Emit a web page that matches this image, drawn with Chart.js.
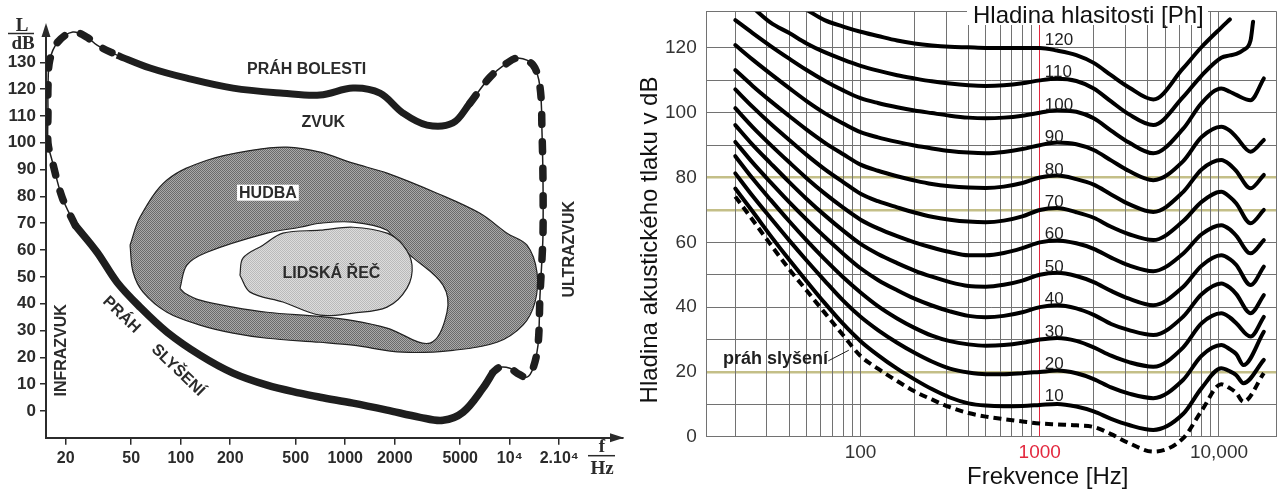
<!DOCTYPE html>
<html lang="cs">
<head>
<meta charset="utf-8">
<title>Sluchové pole a křivky stejné hlasitosti</title>
<script src="https://cdn.jsdelivr.net/npm/chart.js@4.4.1/dist/chart.umd.min.js"></script>
<style>
  html, body { margin: 0; padding: 0; background: #fff; overflow: hidden; }
  .wrap { display: flex; width: 1280px; height: 489px; }
  canvas { display: block; }
</style>
</head>
<body>
<div class="wrap">
  <canvas id="levy" width="630" height="489"></canvas>
  <canvas id="pravy" width="650" height="489"></canvas>
</div>
<script>
// ---------- levy graf: sluchove pole ----------
const levaOsaX = [20, 50, 100, 200, 500, 1000, 2000, 5000, 10000, 20000];
const levaOsaXPopisky = ['20', '50', '100', '200', '500', '1000', '2000', '5000', '10⁴', '2.10⁴'];
const levaOsaY = [0, 10, 20, 30, 40, 50, 60, 70, 80, 90, 100, 110, 120, 130];

// prah slyseni (od vysokych kmitoctu k nizkym)
const prahSlyseniF = [7915, 6880, 5200, 3930, 2849, 1795, 1115, 703, 531, 335, 208, 131, 82.5, 56.6, 41, 31, 22.8];
const prahSlyseniL = [14.4, 8.5, -0.5, -3.5, -2.4, 0.3, 2.9, 5.1, 6.6, 9.6, 14.1, 20.8, 29.4, 38.7, 48, 59.2, 69.3];

const levyOkrajF = [22.8, 19, 16.5, 15.6, 15.6, 15.6, 16, 17.9, 22.1, 26.9, 31, 41];
const levyOkrajL = [69.3, 79.7, 93.5, 99.9, 111.1, 120.8, 130.9, 137.6, 141.3, 139.4, 136.4, 132.7];

const prahBolestiF = [41, 65.1, 109, 208, 419, 703, 1115, 1627, 2245, 3142, 4521, 5736];
const prahBolestiL = [132.7, 127.9, 124.1, 120.4, 118.5, 117.8, 120.4, 118.5, 111.1, 106.6, 107.4, 114.8];

const pravyOkrajF = [5736, 7590, 9627, 11230, 13860, 15280, 15720, 15940, 15940, 15720, 15280, 14860, 13860, 12740, 11080, 10040, 8730, 7915];
const pravyOkrajL = [114.8, 124.5, 129.7, 131.6, 129, 120.8, 103.6, 85, 66.3, 57, 43.2, 24.5, 15.9, 12.6, 14.1, 15.9, 16.3, 14.4];

const hudbaF = [49.2, 56.6, 82.5, 144.5, 275, 443, 703, 1115, 1795, 3614, 6598, 9627, 12740, 14650, 14250, 12040, 8370, 4521, 2245, 1115, 703, 335, 208, 131, 82.5, 59, 51.3, 49.2];
const hudbaL = [61.8, 72.3, 86.1, 93.5, 97.3, 98.4, 96.5, 92.4, 88.7, 81.2, 73.7, 66.3, 61.8, 51.7, 40.6, 32, 25.6, 22.6, 21.9, 24.5, 25.6, 27.1, 29, 32, 36.8, 44.3, 51.8, 61.8];

const bilaF = [99, 109, 144.5, 335, 531, 703, 1115, 1795, 2052, 2603, 3930, 4157, 3278, 1795, 1115, 703, 335, 208, 131, 106, 99];
const bilaL = [45.7, 54.4, 59.2, 66.3, 68.5, 70, 70.4, 67.4, 61.8, 57, 46.9, 36.8, 25.3, 30.9, 33.7, 35.2, 36.8, 38.7, 41.3, 43.9, 45.7];

const recF = [229, 239, 316, 418, 703, 1115, 1795, 2245, 2548, 2375, 1795, 1115, 703, 418, 264, 229];
const recL = [50.6, 57, 61.8, 66.3, 67.4, 68.5, 66.3, 61.8, 54.4, 45.8, 38.7, 36.5, 35.7, 40.6, 44.3, 50.6];

const levaPopiskyText = ['PRÁH BOLESTI', 'ZVUK', 'HUDBA', 'LIDSKÁ ŘEČ', 'INFRAZVUK', 'ULTRAZVUK', 'PRÁH', 'SLYŠENÍ'];
const levaPopiskyF = [582, 736, 339, 825, 18.5, 22800, 44, 97];
const levaPopiskyL = [127.5, 108.1, 81.4, 51.6, 22.6, 60.3, 36.1, 15.4];
const levaPopiskyUhel = [0, 0, 0, 0, -90, -90, 44, 44];

// ---------- pravy graf: krivky stejne hlasitosti ----------
const frekvence = [20, 25, 31.5, 40, 50, 63, 80, 100, 125, 160, 200, 250, 315, 400, 500, 630, 800, 1000, 1250, 1600, 2000, 2500, 3150, 4300, 6300, 8000, 10300, 11500, 12500, 13700, 15000, 15500, 17800];

const prah   = [74.1, 66.9, 59.3, 51.7, 45.1, 38.3, 31.3, 24.9, 21.0, 17.2, 14.0, 11.5, 9.1, 7.3, 6.2, 5.4, 4.7, 4.1, 3.8, 3.5, 3.0, 0.8, -2.0, -4.6, -0.5, 8.0, 16.2, 15.0, 13.5, 10.8, null, null, 19.6];
const phon10 = [76.6, 69.5, 62.0, 54.6, 48.0, 41.3, 34.8, 29.5, 25.2, 21.0, 17.7, 14.7, 12.1, 10.3, 9.6, 9.4, 9.5, 9.8, 10.1, 9.3, 7.8, 5.5, 3.6, 2.1, 7.0, 15.0, 21.1, 20.2, 19.0, 16.5, null, null, 23.7];
const phon20 = [81.3, 74.3, 67.5, 60.6, 54.4, 48.2, 42.0, 37.0, 32.9, 29.0, 25.9, 23.2, 21.0, 19.8, 19.3, 19.3, 19.6, 20.0, 20.4, 19.6, 17.8, 15.2, 13.3, 11.9, 17.5, 25.0, 28.3, 27.0, 25.5, 22.1, null, null, 32.4];
const phon30 = [86.6, 79.7, 73.1, 66.5, 60.6, 54.8, 49.2, 44.5, 40.3, 36.5, 33.6, 31.2, 29.5, 28.5, 28.1, 28.3, 29.0, 30.0, 30.5, 29.6, 27.6, 25.0, 23.0, 21.6, 27.5, 35.0, 38.1, 36.8, 35.0, null, 30.9, null, 37.0];
const phon40 = [91.0, 84.6, 78.5, 72.4, 67.0, 61.7, 56.5, 52.0, 48.4, 45.2, 42.6, 40.5, 38.7, 37.3, 36.9, 37.3, 38.4, 40.0, 40.6, 39.6, 37.6, 34.8, 32.9, 31.4, 37.0, 44.0, 47.3, 46.0, 44.0, null, 38.1, null, 43.7];
const phon50 = [96.2, 90.1, 84.4, 78.6, 73.4, 68.4, 63.6, 59.5, 56.4, 53.6, 51.3, 49.4, 47.7, 46.5, 46.3, 46.9, 48.2, 50.0, 50.6, 49.6, 47.7, 45.0, 42.6, 40.6, 46.2, 52.8, 56.0, 54.8, 53.0, null, 46.8, null, 52.5];
const phon60 = [101.4, 95.6, 90.1, 84.7, 79.8, 75.1, 70.7, 67.0, 64.3, 61.9, 60.0, 58.4, 57.0, 56.0, 56.0, 56.7, 58.2, 60.0, 60.6, 59.7, 58.0, 55.3, 52.9, 51.1, 56.5, 62.5, 65.3, 64.0, 62.0, null, 56.6, null, 60.7];
const phon70 = [107.2, 101.8, 96.6, 91.6, 87.0, 82.6, 78.6, 75.0, 72.7, 70.8, 69.2, 67.9, 67.0, 66.4, 66.2, 66.7, 68.0, 70.0, 70.6, 69.3, 67.6, 64.8, 62.5, 60.7, 66.5, 72.5, 75.6, 74.0, 72.0, null, 65.9, null, 70.0];
const phon80 = [113.2, 108.3, 103.6, 99.0, 94.8, 90.8, 87.2, 84.0, 82.1, 80.4, 79.1, 78.0, 77.3, 76.9, 76.8, 77.2, 78.3, 80.0, 80.6, 79.5, 77.8, 74.8, 71.8, 69.4, 75.5, 82.5, 85.4, 84.0, 82.0, null, 76.7, null, 80.8];
const phon90 = [120.9, 116.4, 112.0, 107.6, 103.6, 99.9, 96.7, 94.0, 92.4, 91.0, 89.9, 89.0, 88.2, 87.7, 87.5, 87.9, 88.8, 90.0, 90.8, 90.3, 88.5, 85.3, 82.0, 79.2, 85.0, 92.5, 95.7, 94.5, 92.5, null, 88.0, null, 91.6];
const phon100 = [128.6, 124.6, 120.6, 116.7, 113.2, 109.9, 106.9, 104.5, 103.0, 101.7, 100.7, 99.9, 99.1, 98.5, 98.3, 98.5, 99.1, 100.0, 100.8, 100.3, 98.3, 94.5, 90.8, 87.5, 95.0, 103.0, 107.5, 106.5, 105.5, null, 103.9, null, 110.6];
const phon110 = [null, 132.5, 127.8, 124.6, 121.4, 118.7, 116.4, 114.5, 113.0, 111.6, 110.6, 109.7, 109.0, 108.5, 108.3, 108.5, 109.1, 110.0, 110.5, 109.8, 107.5, 103.5, 99.5, 96.2, 104.8, 111.5, 117.0, 117.7, 118.2, 119.4, 122.3, 128.1, null];
const phon120 = [null, null, null, null, 131.8, 128.6, 126.6, 125.0, 123.7, 122.3, 121.4, 120.8, 120.4, 120.2, 120.0, 120.0, 120.0, 120.0, 119.2, 117.8, 115.4, 111.6, 107.8, 104.1, 113.7, 120.3, 126.3, 128.8, null, null, null, null, null];

const hladiny = [10, 20, 30, 40, 50, 60, 70, 80, 90, 100, 110, 120];
const krivky = [phon10, phon20, phon30, phon40, phon50, phon60, phon70, phon80, phon90, phon100, phon110, phon120];

const mrizkaX = [20, 30, 40, 50, 60, 70, 80, 90, 100, 200, 300, 400, 500, 600, 700, 800, 900, 1000,
                 2000, 3000, 4000, 5000, 6000, 7000, 8000, 9000, 10000];
const popiskyXHodnoty = [100, 1000, 10000];
const popiskyXText = ['100', '1000', '10,000'];
const mrizkaY = [0, 10, 20, 30, 40, 50, 60, 70, 80, 90, 100, 110, 120];
const zvyrazneneY = [20, 70, 80];

const SANS = '"Liberation Sans", Arial, sans-serif';
const SERIF = '"Liberation Serif", "Times New Roman", serif';
const CERVENA = '#e3283e';
const SEDA = '#727272';
const OLIVOVA = '#c4bf88';

function body(fs, ls) {
  return fs.map((f, i) => ({ x: f, y: ls[i] }));
}

function vzorek(canvas, c1, c2) {
  const t = document.createElement('canvas');
  t.width = 2; t.height = 2;
  const g = t.getContext('2d');
  g.fillStyle = c1; g.fillRect(0, 0, 2, 2);
  g.fillStyle = c2; g.fillRect(0, 0, 1, 1); g.fillRect(1, 1, 1, 1);
  return canvas.getContext('2d').createPattern(t, 'repeat');
}

// pevne okraje os, aby plocha grafu sedela na pixel
function bezOdsazeni(s) {
  s.paddingTop = 0; s.paddingBottom = 0; s.paddingLeft = 0; s.paddingRight = 0;
}

const levyCanvas = document.getElementById('levy');
const vzorHudba = vzorek(levyCanvas, '#a9a9a9', '#6b6b6b');
const vzorRec = vzorek(levyCanvas, '#dcdcdc', '#bababa');

const levyPopisky = {
  id: 'levyPopisky',
  afterDraw(chart) {
    const { ctx, chartArea: a, scales: { x, y } } = chart;
    ctx.save();
    ctx.fillStyle = '#2b2b2b';
    ctx.strokeStyle = '#2b2b2b';

    // sipky na koncich os
    ctx.beginPath();
    ctx.moveTo(a.left, a.top - 4);
    ctx.lineTo(a.left - 4.5, a.top + 10);
    ctx.lineTo(a.left + 4.5, a.top + 10);
    ctx.closePath();
    ctx.fill();
    ctx.beginPath();
    ctx.moveTo(a.right + 1, a.bottom);
    ctx.lineTo(a.right - 13, a.bottom - 4.5);
    ctx.lineTo(a.right - 13, a.bottom + 4.5);
    ctx.closePath();
    ctx.fill();

    // L / dB a f / Hz
    ctx.font = 'bold 19px ' + SERIF;
    ctx.textAlign = 'center';
    ctx.textBaseline = 'alphabetic';
    ctx.lineWidth = 1.5;
    ctx.fillText('L', a.left - 24, a.top + 4);
    ctx.beginPath(); ctx.moveTo(a.left - 38, a.top + 6.5); ctx.lineTo(a.left - 12, a.top + 6.5); ctx.stroke();
    ctx.fillText('dB', a.left - 23, a.top + 22);
    ctx.fillText('f', a.right - 21, a.bottom + 14);
    ctx.beginPath(); ctx.moveTo(a.right - 35, a.bottom + 18); ctx.lineTo(a.right - 8, a.bottom + 18); ctx.stroke();
    ctx.fillText('Hz', a.right - 21, a.bottom + 36);

    // popisky oblasti
    ctx.font = 'bold 16px ' + SANS;
    ctx.textBaseline = 'middle';
    levaPopiskyText.forEach((t, i) => {
      const px = x.getPixelForValue(levaPopiskyF[i]);
      const py = y.getPixelForValue(levaPopiskyL[i]);
      ctx.save();
      ctx.translate(px, py);
      ctx.rotate(levaPopiskyUhel[i] * Math.PI / 180);
      if (t === 'HUDBA') {
        const w = ctx.measureText(t).width;
        ctx.fillStyle = '#fff';
        ctx.fillRect(-w / 2 - 2, -8, w + 4, 16);
      }
      ctx.fillStyle = '#2b2b2b';
      ctx.fillText(t, 0, 1);
      ctx.restore();
    });
    ctx.restore();
  }
};

new Chart(levyCanvas, {
  type: 'line',
  data: {
    datasets: [
      { data: body(prahSlyseniF, prahSlyseniL), borderColor: '#1e1e1e', borderWidth: 7.5, order: 1 },
      { data: body(prahBolestiF, prahBolestiL), borderColor: '#1e1e1e', borderWidth: 7, order: 1 },
      { data: body(levyOkrajF, levyOkrajL), borderColor: '#1e1e1e', borderWidth: 7.5,
        borderDash: [10, 17], borderCapStyle: 'round', order: 2 },
      { data: body(pravyOkrajF, pravyOkrajL), borderColor: '#1e1e1e', borderWidth: 7.5,
        borderDash: [10, 17], borderCapStyle: 'round', order: 2 },
      { data: body(levyOkrajF.concat(prahBolestiF, pravyOkrajF), levyOkrajL.concat(prahBolestiL, pravyOkrajL)),
        borderColor: '#1e1e1e', borderWidth: 1.5, order: 3 },
      { data: body(recF, recL), fill: 'shape', backgroundColor: vzorRec, borderColor: '#222', borderWidth: 1.2, order: 6 },
      { data: body(bilaF, bilaL), fill: 'shape', backgroundColor: '#ffffff', borderColor: '#222', borderWidth: 1.2, order: 7 },
      { data: body(hudbaF, hudbaL), fill: 'shape', backgroundColor: vzorHudba, borderColor: '#222', borderWidth: 1.2, order: 8 }
    ]
  },
  options: {
    responsive: false,
    devicePixelRatio: 1,
    animation: false,
    layout: { padding: { top: 27, right: 7, left: 0, bottom: 0 } },
    elements: { point: { radius: 0 }, line: { tension: 0.35, fill: false } },
    plugins: { legend: { display: false }, tooltip: { enabled: false } },
    scales: {
      x: {
        type: 'logarithmic', min: 15.17, max: 48830,
        afterBuildTicks: s => { s.ticks = levaOsaX.map(v => ({ value: v })); },
        afterFit: s => { s.height = 51.3; bezOdsazeni(s); },
        ticks: {
          autoSkip: false, maxRotation: 0, padding: 4, color: '#2b2b2b',
          font: { family: SANS, size: 16, weight: 'bold' },
          callback: (v, i) => levaOsaXPopisky[i]
        },
        grid: { drawOnChartArea: false, tickLength: 7, color: '#2b2b2b', lineWidth: 1.5 },
        border: { display: true, color: '#2b2b2b', width: 2 }
      },
      y: {
        type: 'linear', min: -10, max: 143.2,
        afterBuildTicks: s => { s.ticks = levaOsaY.map(v => ({ value: v })); },
        afterFit: s => { s.width = 46; bezOdsazeni(s); },
        ticks: {
          padding: 4, color: '#2b2b2b',
          font: { family: SANS, size: 17, weight: 'bold' },
          callback: v => String(v)
        },
        grid: { drawOnChartArea: false, tickLength: 6, color: '#2b2b2b', lineWidth: 1.5 },
        border: { display: true, color: '#2b2b2b', width: 2 }
      }
    }
  },
  plugins: [levyPopisky]
});

// ---------- pravy graf ----------
const pravyPopisky = {
  id: 'pravyPopisky',
  afterDraw(chart) {
    const { ctx, scales: { x, y } } = chart;
    ctx.save();

    // hladiny hlasitosti u 1000 Hz
    ctx.fillStyle = '#1f1f1f';
    ctx.font = '17px ' + SANS;
    ctx.textAlign = 'left';
    ctx.textBaseline = 'alphabetic';
    const x1000 = x.getPixelForValue(1000);
    hladiny.forEach(h => ctx.fillText(String(h), x1000 + 5, y.getPixelForValue(h) - 3));

    // prah slyseni
    ctx.font = 'bold 18px ' + SANS;
    ctx.textAlign = 'right';
    ctx.fillText('práh slyšení', x.getPixelForValue(65.9), y.getPixelForValue(22.4));
    ctx.strokeStyle = '#1f1f1f';
    ctx.lineWidth = 1;
    ctx.beginPath();
    ctx.moveTo(x.getPixelForValue(66), y.getPixelForValue(23.4));
    ctx.lineTo(x.getPixelForValue(86), y.getPixelForValue(26.7));
    ctx.stroke();

    // nadpis
    ctx.fillStyle = '#fff';
    ctx.fillRect(337, 0, 241, 25);
    ctx.fillStyle = '#111';
    ctx.font = '24px ' + SANS;
    ctx.textAlign = 'left';
    ctx.fillText('Hladina hlasitosti [Ph]', 343, 23);

    // popisy os
    ctx.fillText('Frekvence [Hz]', 337, 484);
    ctx.translate(27, 240);
    ctx.rotate(-Math.PI / 2);
    ctx.textAlign = 'center';
    ctx.fillText('Hladina akustického tlaku v dB', 0, 0);
    ctx.restore();
  }
};

new Chart(document.getElementById('pravy'), {
  type: 'line',
  data: {
    labels: frekvence,
    datasets: [
      { data: prah, borderColor: '#000', borderWidth: 4, borderDash: [8, 5], clip: false,
        spanGaps: true, cubicInterpolationMode: 'monotone' }
    ].concat(krivky.map((k, i) => ({
      label: hladiny[i] + ' Ph', data: k, borderColor: '#000', borderWidth: 4, clip: 0,
      spanGaps: true, cubicInterpolationMode: 'monotone', borderCapStyle: 'round', borderJoinStyle: 'round'
    })))
  },
  options: {
    responsive: false,
    devicePixelRatio: 1,
    animation: false,
    layout: { padding: { top: 11.7, right: 3.3, left: 0, bottom: 0 } },
    elements: { point: { radius: 0 }, line: { fill: false } },
    plugins: { legend: { display: false }, tooltip: { enabled: false } },
    scales: {
      x: {
        type: 'logarithmic', min: 13.85, max: 21000,
        afterBuildTicks: s => { s.ticks = mrizkaX.concat([21000]).map(v => ({ value: v })); },
        afterFit: s => { s.height = 52.3; bezOdsazeni(s); },
        ticks: {
          autoSkip: false, maxRotation: 0, padding: 5,
          font: { family: SANS, size: 19 },
          color: c => (c.tick && c.tick.value === 1000) ? CERVENA : '#333',
          callback: v => {
            const i = popiskyXHodnoty.indexOf(v);
            return i >= 0 ? popiskyXText[i] : '';
          }
        },
        grid: {
          drawTicks: false, z: 0,
          color: c => (c.tick && c.tick.value === 1000) ? CERVENA : SEDA,
          lineWidth: 1
        },
        border: { display: true, color: SEDA, width: 1 }
      },
      y: {
        type: 'linear', min: 0, max: 131.2,
        afterBuildTicks: s => { s.ticks = mrizkaY.concat([131.2]).map(v => ({ value: v })); },
        afterFit: s => { s.width = 76.7; bezOdsazeni(s); },
        ticks: {
          padding: 10, color: '#333',
          font: { family: SANS, size: 19 },
          callback: v => (v % 20 === 0 && v <= 120) ? String(v) : ''
        },
        grid: {
          drawTicks: false, z: -1,
          color: c => (c.tick && zvyrazneneY.includes(c.tick.value)) ? OLIVOVA : SEDA,
          lineWidth: c => (c.tick && zvyrazneneY.includes(c.tick.value)) ? 2.5 : 1
        },
        border: { display: true, color: SEDA, width: 1 }
      }
    }
  },
  plugins: [pravyPopisky]
});
</script>
</body>
</html>
